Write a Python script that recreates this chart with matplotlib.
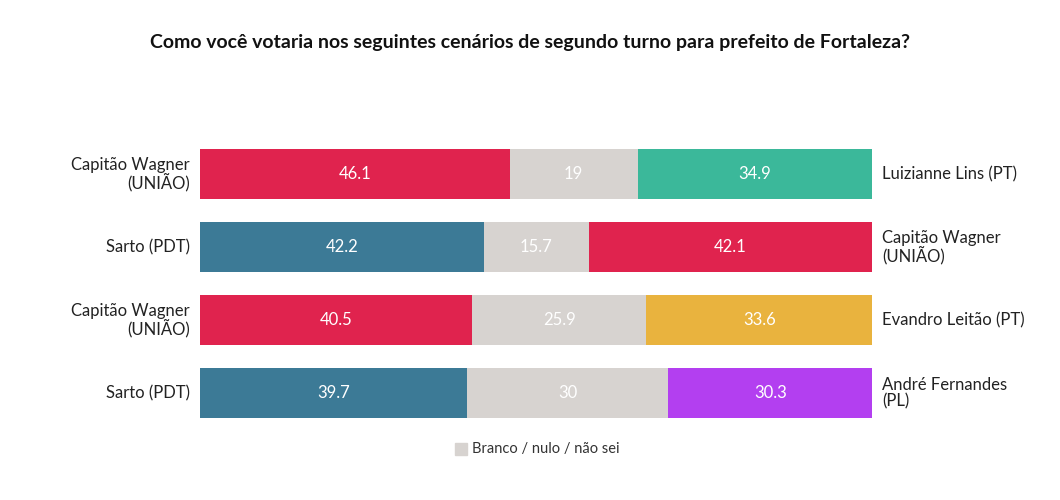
import matplotlib.pyplot as plt
from matplotlib.patches import Rectangle

plt.rcParams['font.family'] = ['Lato', 'DejaVu Sans']

left_names = ['Capitão Wagner\n(UNIÃO)', 'Sarto (PDT)', 'Capitão Wagner\n(UNIÃO)', 'Sarto (PDT)']
right_names = ['Luizianne Lins (PT)', 'Capitão Wagner\n(UNIÃO)', 'Evandro Leitão (PT)', 'André Fernandes\n(PL)']
left_vals = [46.1, 42.2, 40.5, 39.7]
mid_vals = [19, 15.7, 25.9, 30]
right_vals = [34.9, 42.1, 33.6, 30.3]
left_colors = ['#E0234E', '#3C7A96', '#E0234E', '#3C7A96']
right_colors = ['#3BB89A', '#E0234E', '#E9B33E', '#B33FF0']
gray = '#D7D3D0'

fig = plt.figure(figsize=(10.6, 5), dpi=100)
ax = fig.add_axes([0.1887, 0.141, 0.634, 0.584])
ys = list(range(len(left_vals)))
ax.barh(ys, left_vals, height=0.685, color=left_colors)
ax.barh(ys, mid_vals, left=left_vals, height=0.685, color=gray)
starts = [a + b for a, b in zip(left_vals, mid_vals)]
ax.barh(ys, right_vals, left=starts, height=0.685, color=right_colors)

for i in ys:
    ax.text(left_vals[i] / 2, i, f'{left_vals[i]:g}', ha='center', va='center', color='white', fontsize=12)
    ax.text(left_vals[i] + mid_vals[i] / 2, i, f'{mid_vals[i]:g}', ha='center', va='center', color='white', fontsize=12)
    ax.text(starts[i] + right_vals[i] / 2, i, f'{right_vals[i]:g}', ha='center', va='center', color='white', fontsize=12)
    ax.text(-1.5, i, left_names[i], ha='right', va='center', fontsize=12, color='#222222', linespacing=1.0)
    ax.text(101.5, i, right_names[i], ha='left', va='center', fontsize=12, color='#222222', linespacing=1.0)

ax.set_xlim(0, 100)
ax.set_ylim(3.5, -0.5)
ax.axis('off')

fig.text(0.5, 0.915, 'Como você votaria nos seguintes cenários de segundo turno para prefeito de Fortaleza?',
         ha='center', va='center', fontsize=14, fontweight='bold', color='#111111')
fig.patches.append(Rectangle((0.429, 0.09), 0.012, 0.025, transform=fig.transFigure, color=gray))
fig.text(0.445, 0.103, 'Branco / nulo / não sei', ha='left', va='center', fontsize=10.5, color='#333333')

fig.savefig('out.png', dpi=100)
